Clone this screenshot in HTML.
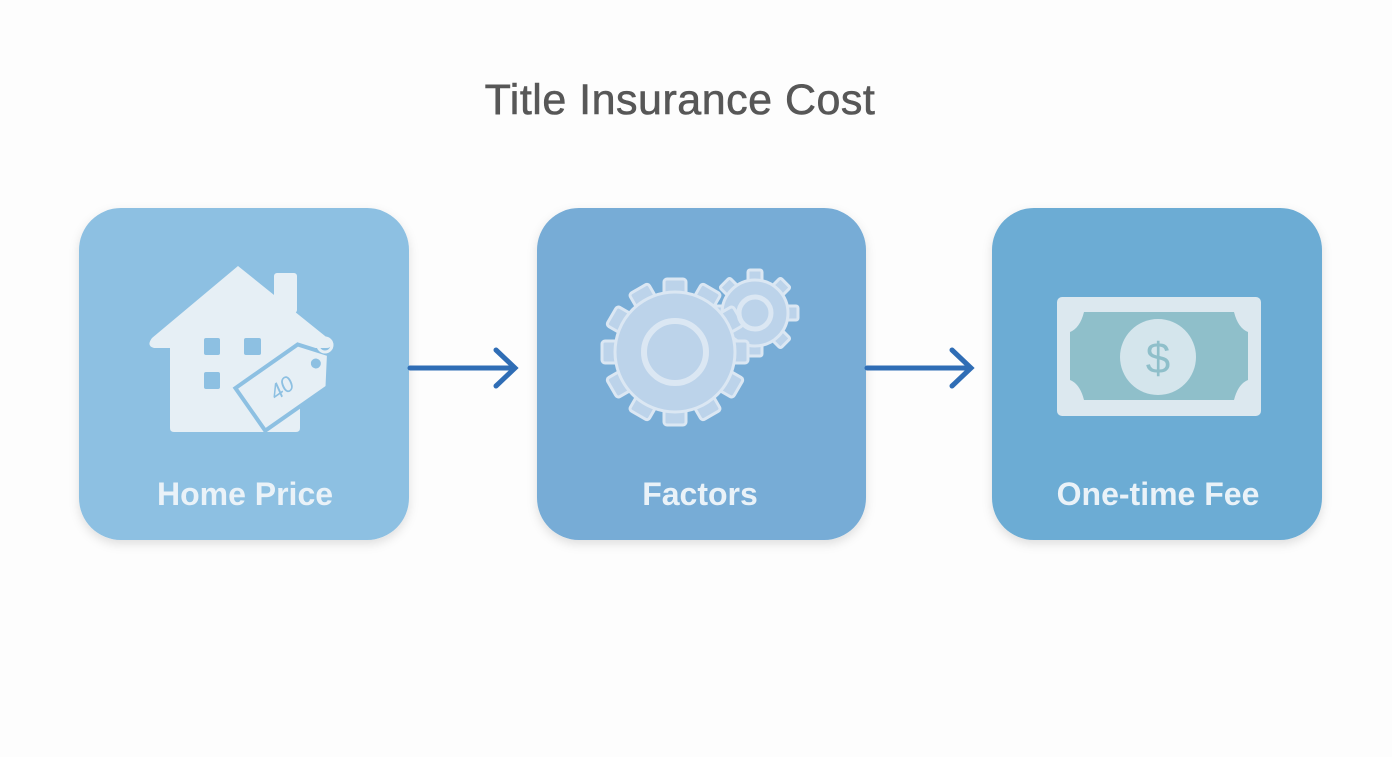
<!DOCTYPE html>
<html><head><style>
body{margin:0;width:1392px;height:752px;background:#fdfdfd;font-family:"Liberation Sans",sans-serif;overflow:hidden}
</style></head><body>
<svg width="1392" height="752" viewBox="0 0 1392 752" xmlns="http://www.w3.org/2000/svg">
<defs>
<filter id="sh" x="-10%" y="-10%" width="120%" height="125%"><feDropShadow dx="0" dy="4" stdDeviation="5" flood-color="#000" flood-opacity="0.12"/></filter>
</defs>
<text x="680" y="114" text-anchor="middle" font-family="Liberation Sans, sans-serif" font-size="43" fill="#575757" stroke="#575757" stroke-width="0.6" letter-spacing="0.5">Title Insurance Cost</text>

<rect x="79" y="208" width="330" height="332" rx="42" fill="#8dc0e2" filter="url(#sh)"/>
<rect x="537" y="208" width="329" height="332" rx="42" fill="#77acd6" filter="url(#sh)"/>
<rect x="992" y="208" width="330" height="332" rx="42" fill="#6cacd4" filter="url(#sh)"/>

<g stroke="#2f6db5" stroke-width="5" fill="none" stroke-linecap="round">
<line x1="410" y1="368" x2="514" y2="368"/><polyline points="496,350 515,368 496,386"/>
<line x1="867" y1="368" x2="969" y2="368"/><polyline points="952,350 971,368 952,386"/>
</g>

<g fill="#e6eff5">
<rect x="274" y="273" width="23" height="40" rx="3"/>
<path d="M238,266 L330,340 Q334,348 326,348 L300,348 L300,428 Q300,432 296,432 L174,432 Q170,432 170,428 L170,348 L154,348 Q146,346 152,338 Z"/>
</g>
<g fill="#8dc0e2">
<rect x="204" y="338" width="16" height="17" rx="2"/><rect x="244" y="338" width="17" height="17" rx="2"/>
<rect x="204" y="372" width="16" height="17" rx="2"/>
</g>
<g transform="translate(288,383) rotate(-35)">
<path d="M-46,-26 L30,-26 L50,0 L30,26 L-46,26 Z" fill="#e6eff5" stroke="#8dc0e2" stroke-width="4"/>
<circle cx="34" cy="0" r="5" fill="#8dc0e2"/>
<text x="-8" y="8" font-size="22" fill="#8dc0e2" text-anchor="middle" font-style="italic">40</text>
</g>
<circle cx="325" cy="345" r="7" fill="none" stroke="#e6eff5" stroke-width="3"/>

<g fill="#bcd3ea" stroke="#dbe7f3" stroke-width="3">
<g transform="translate(755,313)">
<g id="t2"><rect x="-7" y="-43" width="14" height="86" rx="2"/></g>
<use href="#t2" transform="rotate(45)"/><use href="#t2" transform="rotate(90)"/><use href="#t2" transform="rotate(135)"/>
<circle r="33"/>
</g>
<g transform="translate(675,352)">
<g id="t1"><rect x="-11" y="-73" width="22" height="146" rx="3"/></g>
<use href="#t1" transform="rotate(30)"/><use href="#t1" transform="rotate(60)"/><use href="#t1" transform="rotate(90)"/><use href="#t1" transform="rotate(120)"/><use href="#t1" transform="rotate(150)"/>
<circle r="60"/>
</g>
</g>
<circle cx="675" cy="352" r="31" fill="#bcd3ea" stroke="#dbe7f3" stroke-width="6"/>
<circle cx="755" cy="313" r="16" fill="#bcd3ea" stroke="#dbe7f3" stroke-width="5"/>

<rect x="1057" y="297" width="204" height="119" rx="5" fill="#dce8ef"/>
<path d="M1084,312 L1234,312 Q1238,328 1248,332 L1248,380 Q1238,384 1234,400 L1084,400 Q1080,384 1070,380 L1070,332 Q1080,328 1084,312 Z" fill="#8fbfca"/>
<circle cx="1158" cy="357" r="38" fill="#d4e5ec"/>
<text x="1158" y="373" text-anchor="middle" font-size="44" fill="#8fbfca">$</text>

<g font-family="Liberation Sans, sans-serif" font-size="32" font-weight="bold" fill="#eaf2f8" text-anchor="middle">
<text x="245" y="505">Home Price</text>
<text x="700" y="505">Factors</text>
<text x="1158" y="505">One-time Fee</text>
</g>
</svg>
</body></html>
